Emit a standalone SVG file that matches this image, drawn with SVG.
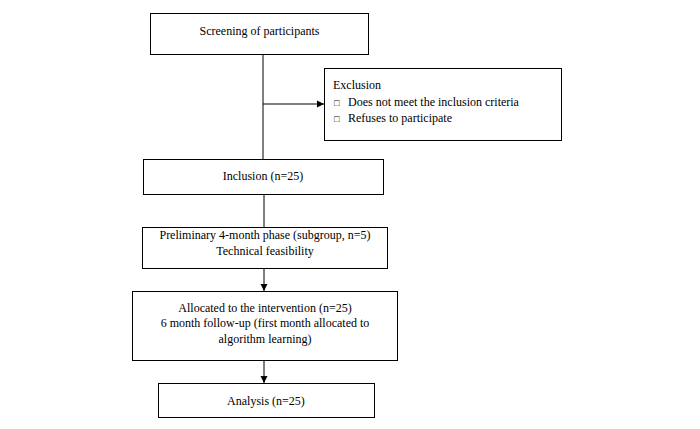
<svg xmlns="http://www.w3.org/2000/svg" width="700" height="429" viewBox="0 0 700 429">
<defs>
<style>
.box{fill:#fff;stroke:#000;stroke-width:1}
.t{font-family:"Liberation Serif","Times New Roman",serif;font-size:12px;fill:#000}
.c{text-anchor:middle}
.ln{stroke:#000;stroke-width:1;fill:none}
</style>
<marker id="ah" markerWidth="8" markerHeight="8" refX="7" refY="4" orient="auto" markerUnits="userSpaceOnUse">
<path d="M0,0.5 L7,4 L0,7.5 Z" fill="#000"/>
</marker>
</defs>
<rect width="700" height="429" fill="#fff"/>
<g id="connectors">
<line class="ln" x1="263" y1="54" x2="263" y2="159"/>
<line class="ln" x1="263" y1="104" x2="324" y2="104" marker-end="url(#ah)"/>
<line class="ln" x1="264" y1="194" x2="264" y2="227"/>
<line class="ln" x1="264" y1="268" x2="264" y2="291" marker-end="url(#ah)"/>
<line class="ln" x1="264" y1="360" x2="264" y2="383" marker-end="url(#ah)"/>
</g>
<g id="screening">
<rect class="box" x="150.5" y="13.5" width="218" height="41"/>
<text class="t c" x="259.5" y="35">Screening of participants</text>
</g>
<g id="exclusion">
<rect class="box" x="324.5" y="68.5" width="237" height="72"/>
<text class="t" x="333" y="89">Exclusion</text>
<text class="t" x="334" y="106"><tspan font-size="9">□</tspan><tspan x="348">Does not meet the inclusion criteria</tspan></text>
<text class="t" x="334" y="122"><tspan font-size="9">□</tspan><tspan x="348">Refuses to participate</tspan></text>
</g>
<g id="inclusion">
<rect class="box" x="143.5" y="159.5" width="240" height="35"/>
<text class="t c" x="263" y="180">Inclusion (n=25)</text>
</g>
<g id="preliminary">
<rect class="box" x="142.5" y="227.5" width="245" height="41"/>
<text class="t c" x="265" y="239">Preliminary 4-month phase (subgroup, n=5)</text>
<text class="t c" x="265" y="255">Technical feasibility</text>
</g>
<g id="allocated">
<rect class="box" x="132.5" y="291.5" width="265" height="69"/>
<text class="t c" x="265" y="312">Allocated to the intervention (n=25)</text>
<text class="t c" x="265" y="327">6 month follow-up (first month allocated to</text>
<text class="t c" x="265" y="343">algorithm learning)</text>
</g>
<g id="analysis">
<rect class="box" x="158.5" y="383.5" width="216" height="34"/>
<text class="t c" x="266" y="405">Analysis (n=25)</text>
</g>
</svg>
